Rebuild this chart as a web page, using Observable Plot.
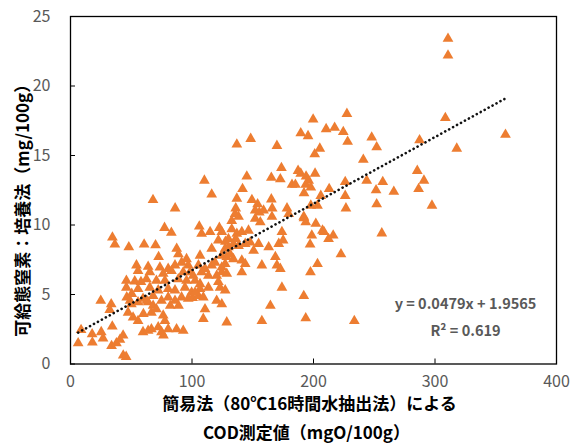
<!DOCTYPE html>
<html>
<head>
<meta charset="utf-8">
<script src="https://cdn.jsdelivr.net/npm/d3@7"></script>
<script src="https://cdn.jsdelivr.net/npm/@observablehq/plot@0.6"></script>
<style>
  html, body { margin: 0; padding: 0; background: #fff; }
  #chart { width: 578px; height: 446px; }
</style>
</head>
<body>
<div id="chart"></div>
<script>
// COD measured by simple method (mgO/100g)
const codValues = [
  6.3, 8.7, 17.8, 18, 25.3, 26.8, 24.9, 33.5, 32.3, 33.8, 37.8, 40.7, 43.3, 34.4, 43.4, 45.8,
  34.5, 36.5, 48, 60.6, 70, 67.9, 86.1, 77.4, 83, 72.5, 87.4, 88.8, 95.5, 91.4, 96.9,
  54.3, 63.9, 73.6, 80.4, 86, 55.6, 65.3, 76.3, 83.1, 92.8, 98.3,
  46, 52.9, 62.5, 70.7, 77.7, 88.7, 95.5, 46, 55.6, 65.3, 72.2, 80.4, 86, 94.2, 99.7,
  46.3, 49, 50.1, 55.6, 59.7, 63.9, 68, 74.9, 80.4, 86, 91.4, 96.9,
  47.4, 51.5, 55.6, 60, 66.6, 70.7, 76.3, 77.7, 82.1, 88.9,
  66.6, 59.7, 63.9, 72.2, 74.9, 76.5, 80.4, 87.3, 92.8, 58, 68, 62.8, 50.4,
  101, 107.9, 113.5, 120.3, 124.5, 128.6, 102.5, 106.6, 113.5, 121.7, 123.1, 127.3,
  100.5, 105.3, 109.3, 106.6, 102.5, 120.3, 124.5, 110.7, 109.3, 128.6,
  105.3, 110.7, 116.2, 119, 124.5, 127.3, 106.6, 124.5, 128.6, 131.4, 134.1, 141, 143.8,
  168.6, 169.9, 157.5, 172.7, 141, 197.5,
  116.2, 127.3, 130, 138.3, 143.8, 150.7, 147.9, 121.7, 130, 134.1, 154.8, 163.1, 171.4, 174,
  107.9, 114.9, 124.5, 132.7, 136.9, 141, 146.5, 106, 132.7, 138.3, 135.5, 136,
  152, 156.2, 152, 155.4, 158.9, 165.8, 178.2, 179.6, 192,
  136.9, 149.3, 154, 165.3, 141.6, 110.2, 116.2, 145.1, 165.3, 172.7, 173.6, 187.3, 182.3, 185.1, 196,
  136.9, 148.3, 169.9, 174, 164.5, 157.5, 192, 193.6, 203.3, 222.6, 233.6,
  189.5, 195.5, 199.7, 210.4, 217.4, 224.5, 227.5, 228.1, 247.9, 252, 241, 205.2, 201, 201.3,
  193.9, 189.5, 193.6, 197.8, 192.2, 206, 212.9, 226.1, 226.1, 243.8, 257, 251.5, 266.1,
  252, 226.7, 297.5, 197.8, 203.3, 192.2, 193.6, 201.9, 207.4, 216.2, 212.4, 198.6, 197.2, 256.2,
  310.7, 310.7, 308.5, 358, 317.9, 287.3, 285.4, 290.9, 286.5, 208.6,
  166, 175, 122.5, 127.5, 136
];
// Available nitrogen by incubation method (mg/100g)
const nitrogenValues = [
  1.5, 2.45, 2.15, 1.55, 2.3, 1.85, 4.55, 4.3, 3.9, 1.3, 1.5, 1.75, 2.05, 2.7, 0.62, 0.52,
  9.1, 8.6, 8.4, 8.6, 8.55, 11.8, 11.2, 9.8, 9.45, 7.7, 8.3, 7.9, 7.55, 7.3, 7.1,
  7.1, 7.0, 6.95, 6.85, 7.1, 6.7, 6.6, 6.5, 6.7, 6.6, 6.6,
  6.0, 5.95, 6.1, 6.0, 6.0, 6.1, 6.0, 5.5, 5.4, 5.5, 5.3, 5.4, 5.3, 5.5, 5.15,
  4.8, 4.55, 4.3, 4.45, 4.7, 4.45, 4.2, 4.55, 4.8, 4.55, 4.8, 4.7,
  3.7, 3.35, 3.1, 3.6, 3.7, 3.95, 3.5, 3.1, 4.2, 4.2,
  2.5, 2.3, 2.4, 2.65, 2.3, 2.05, 2.5, 2.5, 2.4, 5.9, 4.9, 4.55, 5.05,
  6.35, 6.6, 6.35, 6.35, 6.6, 6.5, 6.0, 5.75, 5.5, 5.9, 5.5, 5.3,
  4.75, 4.9, 4.8, 5.4, 5.15, 4.55, 4.3, 3.95, 3.25, 3.0,
  7.1, 6.85, 7.1, 7.3, 6.95, 7.2, 7.8, 7.8, 7.7, 7.9, 7.55, 7.45, 7.2,
  7.7, 7.1, 7.1, 6.85, 6.6, 6.6,
  8.3, 8.3, 8.4, 8.5, 8.65, 8.15, 8.75, 8.9, 9.0, 8.65, 8.65, 8.4, 8.65, 9.5,
  9.37, 9.5, 9.5, 9.7, 9.37, 9.5, 9.6, 9.9, 10.3, 10.6, 10.8, 11.2,
  10.45, 10.2, 11.05, 10.9, 11.05, 10.6, 11.2, 10.8, 10.6,
  11.9, 11.8, 11.5, 11.85, 12.6, 13.2, 12.2, 13.5, 13.4, 13.3, 14.1, 13.9, 12.9, 12.9, 13.2,
  15.8, 16.2, 15.7, 5.5, 4.2, 3.1, 4.9, 3.3, 7.2, 7.9, 3.1,
  16.6, 16.4, 17.6, 16.9, 17.0, 16.7, 18.0, 16.0, 16.3, 15.6, 14.7, 15.5, 15.1, 13.7,
  13.5, 13.7, 12.9, 12.7, 12.3, 12.1, 12.6, 13.1, 12.1, 13.2, 13.1, 12.5, 12.4,
  11.5, 11.2, 11.4, 11.4, 11.4, 10.5, 10.2, 10.1, 9.6, 9.25, 9.0, 9.25, 8.6, 9.4,
  23.4, 22.2, 17.7, 16.5, 15.5, 16.1, 13.9, 13.2, 12.6, 9.5,
  11.2, 8.9, 9.8, 8.8, 9.0
];
const xTicks = [0, 100, 200, 300, 400];
const yTicks = [0, 5, 10, 15, 20, 25];
const slope = 0.0479;
const intercept = 1.9565;
const equationLines = ["y = 0.0479x + 1.9565", "R² = 0.619"];
const xTitleLines = ["簡易法（80℃16時間水抽出法）による", "COD測定値（mgO/100g）"];
const yTitle = "可給態窒素：培養法（mg/100g）";

const points = codValues.map((x, i) => ({x, y: nitrogenValues[i]}));
const [xmin, xmax] = d3.extent(codValues);
const trend = [xmin, xmax].map(x => ({x, y: slope * x + intercept}));

const font = "'Noto Sans CJK JP', 'Noto Sans', sans-serif";

const chart = Plot.plot({
  width: 578,
  height: 446,
  marginLeft: 70,
  marginRight: 22,
  marginTop: 16,
  marginBottom: 82.5,
  style: {fontFamily: font, background: "#fff", overflow: "visible"},
  x: {domain: [0, 400], ticks: xTicks},
  y: {domain: [0, 25], ticks: yTicks},
  marks: [
    Plot.axisX({ticks: xTicks, tickSize: -5, tickPadding: 17, stroke: "#000", fill: "#595959", fontSize: 16, label: null}),
    Plot.axisY({ticks: yTicks, tickSize: -5, tickPadding: 25, stroke: "#000", fill: "#595959", fontSize: 16, label: null}),
    Plot.dot(points, {x: "x", y: "y", symbol: "triangle", r: 4.0, fill: "#ED7D31", stroke: null}),
    Plot.line(trend, {x: "x", y: "y", stroke: "#111", strokeWidth: 2.6, strokeDasharray: "0.1,4.4", strokeLinecap: "round"}),
    Plot.frame({stroke: "#000", strokeWidth: 1.3}),
    Plot.text([equationLines[0]], {frameAnchor: "bottom-right", dx: -91, dy: -55.5, textAnchor: "middle", fill: "#595959", fontSize: 14.5, fontWeight: "bold"}),
    Plot.text([equationLines[1]], {frameAnchor: "bottom-right", dx: -91, dy: -28.5, textAnchor: "middle", fill: "#595959", fontSize: 14.5, fontWeight: "bold"}),
    Plot.text([xTitleLines[0]], {frameAnchor: "bottom", dx: -4, dy: 46, fill: "#000", fontSize: 17, fontWeight: "bold"}),
    Plot.text([xTitleLines[1]], {frameAnchor: "bottom", dx: -7, dy: 74.5, fill: "#000", fontSize: 17, fontWeight: "bold"}),
    Plot.text([yTitle], {frameAnchor: "left", textAnchor: "middle", dx: -47, dy: 16, rotate: -90, fill: "#000", fontSize: 17, fontWeight: "bold"})
  ]
});
document.getElementById("chart").appendChild(chart);
</script>
</body>
</html>
